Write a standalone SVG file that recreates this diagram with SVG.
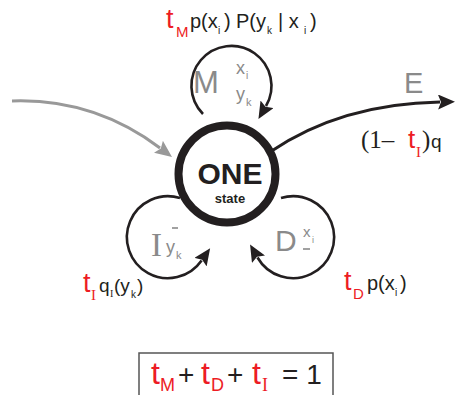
<svg xmlns="http://www.w3.org/2000/svg" width="456" height="395" viewBox="0 0 456 395">
<style>
.sans{font-family:"Liberation Sans",Arial,sans-serif}
.serif{font-family:"Liberation Serif","Times New Roman",serif}
.red{fill:#ed1c24}
.blk{fill:#231f20}
.gry{fill:#8a8a8a}
.loop{fill:none;stroke:#231f20;stroke-width:2.6}
.bar{stroke:#8a8a8a;stroke-width:1.6}
</style>
<defs>
<marker id="ab" markerWidth="17" markerHeight="15" refX="2" refY="7.5" orient="auto" markerUnits="userSpaceOnUse">
<path d="M0,0 L17,7.5 L0,15 L3,7.5 z" fill="#231f20"/>
</marker>
<marker id="ag" markerWidth="17" markerHeight="15" refX="2" refY="7.5" orient="auto" markerUnits="userSpaceOnUse">
<path d="M0,0 L17,7.5 L0,15 L3,7.5 z" fill="#999"/>
</marker>
</defs>
<g id="connectors">
<path d="M12,101 C70,99 120,118 160,148" fill="none" stroke="#999" stroke-width="3" marker-end="url(#ag)"/>
<path d="M270,152 C320,118 380,103 440,102" fill="none" stroke="#231f20" stroke-width="3" marker-end="url(#ab)"/>
<path class="loop" d="M203,114 A40 40 0 1 1 266,106" marker-end="url(#ab)"/>
<path class="loop" d="M180,198 A41 41 0 1 0 201.6,260.5" marker-end="url(#ab)"/>
<path class="loop" d="M281,198 A41 41 0 1 1 257.5,257.5" marker-end="url(#ab)"/>
</g>
<g id="one-state">
<circle cx="227" cy="174" r="48.5" fill="#fff" stroke="#231f20" stroke-width="8"/>
<text x="230" y="184" class="sans blk" font-size="30" font-weight="bold" text-anchor="middle">ONE</text>
<text x="230" y="203" class="sans blk" font-size="13" font-weight="bold" text-anchor="middle">state</text>
</g>
<g id="match">
<text x="193" y="93" class="sans gry" font-size="31">M</text>
<text x="236" y="74" class="sans gry" font-size="18">x</text>
<text x="246" y="79" class="sans gry" font-size="10">i</text>
<text x="236" y="100" class="sans gry" font-size="18">y</text>
<text x="246" y="106" class="sans gry" font-size="11">k</text>
<text class="sans" font-size="20"><tspan x="166" y="28" class="red" font-size="27">t</tspan><tspan x="176" y="37" class="red" font-size="15">M</tspan><tspan x="190" y="28" class="blk">p(x</tspan><tspan x="218" y="34" class="blk" font-size="10">i</tspan><tspan x="224" y="28" class="blk">)</tspan><tspan x="236" y="28" class="blk">P(y</tspan><tspan x="267" y="34" class="blk" font-size="10">k</tspan><tspan x="278" y="28" class="blk">| x</tspan><tspan x="304" y="34" class="blk" font-size="10">i</tspan><tspan x="310" y="28" class="blk">)</tspan></text>
</g>
<g id="end">
<text x="404" y="93" class="sans gry" font-size="29">E</text>
<text font-size="25"><tspan x="361" y="148" class="serif blk">(1–</tspan><tspan x="408" y="148" class="sans red" font-size="26">t</tspan><tspan x="416" y="157" class="serif red" font-size="15">I</tspan><tspan x="422" y="148" class="serif blk">)</tspan><tspan x="431" y="148" class="sans blk" font-size="19">q</tspan></text>
</g>
<g id="insert">
<text x="151" y="256" class="serif gry" font-size="33">I</text>
<line class="bar" x1="172" y1="228" x2="178" y2="228"/>
<text x="166" y="253" class="sans gry" font-size="18">y</text>
<text x="176" y="259" class="sans gry" font-size="11">k</text>
<text class="sans" font-size="19"><tspan x="83" y="292" class="red" font-size="27">t</tspan><tspan x="91" y="300" class="serif red" font-size="15">I</tspan><tspan x="99" y="292" class="blk">q</tspan><tspan x="110" y="297" class="serif blk" font-size="10">I</tspan><tspan x="114" y="292" class="blk">(y</tspan><tspan x="131" y="298" class="blk" font-size="10">k</tspan><tspan x="137" y="292" class="blk">)</tspan></text>
</g>
<g id="delete">
<text x="275" y="251" class="sans gry" font-size="30">D</text>
<text x="303" y="237" class="sans gry" font-size="15">x</text>
<text x="312" y="243" class="sans gry" font-size="9">i</text>
<line class="bar" x1="303" y1="249" x2="310" y2="249"/>
<text class="sans" font-size="20"><tspan x="344" y="290" class="red" font-size="27">t</tspan><tspan x="353" y="299" class="red" font-size="15">D</tspan><tspan x="367" y="290" class="blk">p(x</tspan><tspan x="395" y="296" class="blk" font-size="10">i</tspan><tspan x="400" y="290" class="blk">)</tspan></text>
</g>
<g id="sum">
<rect x="139" y="353" width="194" height="50" fill="none" stroke="#555" stroke-width="1.5"/>
<text class="sans" font-size="28"><tspan x="151" y="384" class="red" font-size="32">t</tspan><tspan x="160" y="391" class="red" font-size="18">M</tspan><tspan x="178" y="384" class="blk">+</tspan><tspan x="201" y="384" class="red" font-size="32">t</tspan><tspan x="211" y="391" class="red" font-size="18">D</tspan><tspan x="227" y="384" class="blk">+</tspan><tspan x="252" y="384" class="red" font-size="32">t</tspan><tspan x="262" y="391" class="serif red" font-size="18">I</tspan><tspan x="282" y="384" class="blk">= 1</tspan></text>
</g>
</svg>
